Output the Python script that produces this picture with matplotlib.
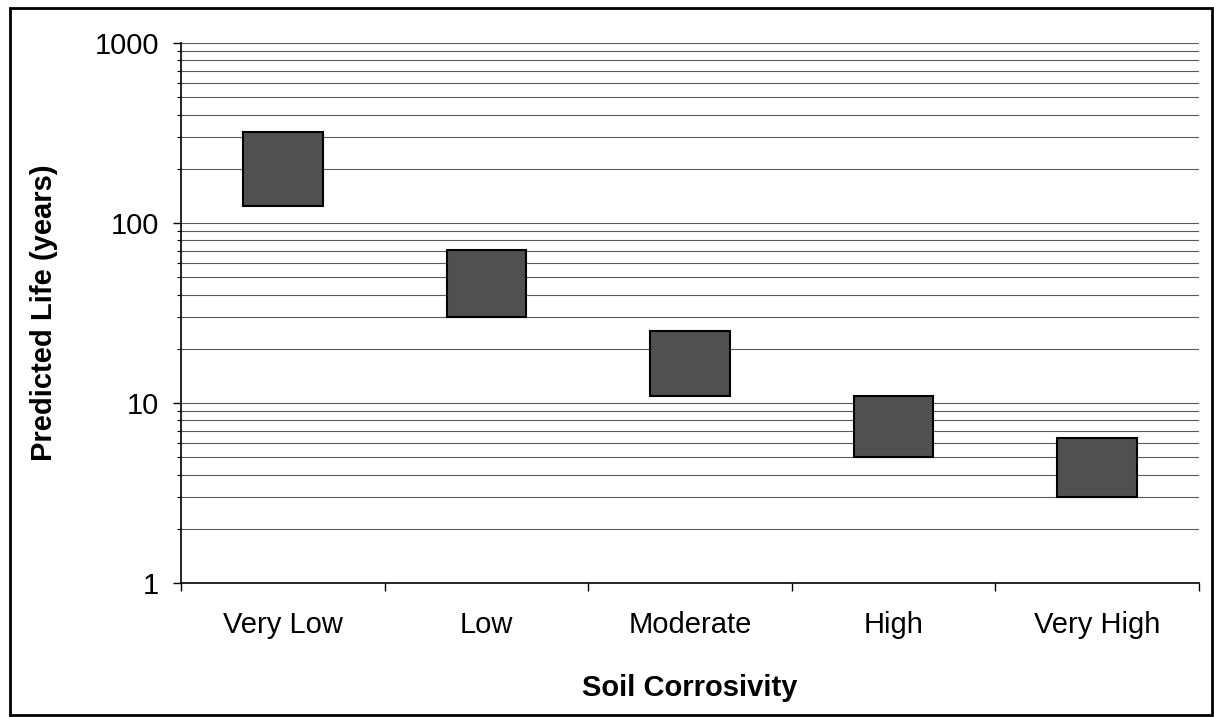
import matplotlib
matplotlib.use('Agg')
import matplotlib.pyplot as plt
from matplotlib.patches import Rectangle
from matplotlib.ticker import LogLocator, NullFormatter, FixedLocator

# floating bars: lower and upper predicted life per soil class
categories = ['Very Low', 'Low', 'Moderate', 'High', 'Very High']
life_low = [125, 30, 11, 5, 3]
life_high = [320, 71, 25, 11, 6.4]

plt.rcParams['font.family'] = ['Liberation Sans', 'DejaVu Sans']

fig = plt.figure(figsize=(12.14, 7.17), dpi=100)
ax = fig.add_axes([181 / 1214, 1 - 583 / 717, 1018 / 1214, 540 / 717])

x = list(range(len(categories)))
heights = [h - l for l, h in zip(life_low, life_high)]
ax.bar(x, heights, bottom=life_low, width=0.39, color='#505050',
       edgecolor='black', linewidth=1.5, zorder=3)

ax.set_yscale('log')
ax.set_ylim(1, 1000)
ax.set_xlim(-0.5, len(categories) - 0.5)

# gridlines at every major and minor decade step
ax.yaxis.set_major_locator(LogLocator(base=10, numticks=10))
ax.yaxis.set_minor_locator(LogLocator(base=10, subs=range(2, 10), numticks=10))
ax.yaxis.set_minor_formatter(NullFormatter())
ax.set_yticks([1, 10, 100, 1000])
ax.set_yticklabels(['1', '10', '100', '1000'])
ax.grid(True, which='both', axis='y', color='#5a5a5a', linewidth=0.8, zorder=0)

# category boundaries as ticks, labels centred between them
ax.xaxis.set_major_locator(FixedLocator([i - 0.5 for i in range(len(categories) + 1)]))
ax.xaxis.set_major_formatter(NullFormatter())
ax.xaxis.set_minor_locator(FixedLocator(x))
ax.set_xticklabels(categories, minor=True)
ax.tick_params(axis='x', which='major', direction='out', length=6, width=1)
ax.tick_params(axis='x', which='minor', length=0, pad=20, labelsize=21)
ax.tick_params(axis='y', which='major', direction='out', length=6, width=1,
               pad=10, labelsize=21)
ax.tick_params(axis='y', which='minor', direction='out', length=3, width=0.8)

for s in ['top', 'right']:
    ax.spines[s].set_visible(False)
ax.spines['left'].set_linewidth(1.2)
ax.spines['bottom'].set_linewidth(1.2)

ax.set_xlabel('Soil Corrosivity', fontsize=21, fontweight='bold', labelpad=25)
ax.set_ylabel('Predicted Life (years)', fontsize=21, fontweight='bold', labelpad=26)

fig.patches.append(Rectangle((10 / 1214, 2 / 717), 1202 / 1214, 707 / 717,
                             transform=fig.transFigure, fill=False,
                             edgecolor='black', linewidth=2))

fig.savefig('out.png', dpi=100)
